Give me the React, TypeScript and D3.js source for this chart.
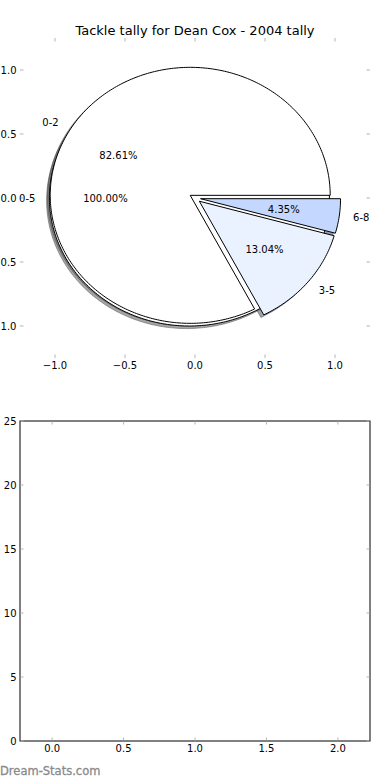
import React from "react";
import * as d3 from "d3";

const chartTitle = "Tackle tally for Dean Cox - 2004 tally";
const outerLabels = ["0-5"];
const outerValues = [23];
const outerColors = ["#ffffff"];
const innerLabels = ["0-2", "3-5", "6-8"];
const innerValues = [19, 3, 1];
const innerColors = ["#ffffff", "#eaf1ff", "#c3d7ff"];
const pieTicks = [-1, -0.5, 0, 0.5, 1];
const barXTicks = [0, 0.5, 1, 1.5, 2];
const barYTicks = [0, 5, 10, 15, 20, 25];
const watermark = "Dream-Stats.com";

const EXPLODE = 0.04;
const SHADOW_OFF = -0.02;
const FONT = "DejaVu Sans, sans-serif";
const TICK_COLOR = "#b4b4b4";
const TICK_LEN = 3.5;

const W = 390;
const H = 780;
const pieBox = { left: 20, right: 370, top: 38, bottom: 358 };
const barBox = { left: 20, right: 370, top: 421, bottom: 741 };

const px = d3.scaleLinear().domain([-1.25, 1.25]).range([pieBox.left, pieBox.right]);
const py = d3.scaleLinear().domain([-1.25, 1.25]).range([pieBox.bottom, pieBox.top]);
const bx = d3.scaleLinear().domain([-0.225, 2.225]).range([barBox.left, barBox.right]);
const by = d3.scaleLinear().domain([0, 25]).range([barBox.bottom, barBox.top]);

function fmtTick(v: number, digits: number) {
  return d3.format(`.${digits}f`)(v).replace("-", "\u2212");
}

function wedgePath(cx: number, cy: number, a0: number, a1: number) {
  const full = a1 - a0 >= 2 * Math.PI - 1e-9;
  const n = Math.max(6, Math.ceil(((a1 - a0) * 180) / Math.PI));
  const pts: [number, number][] = [];
  for (let i = 0; i <= n; i++) {
    const a = a0 + ((a1 - a0) * i) / n;
    pts.push([px(cx + Math.cos(a)), py(cy + Math.sin(a))]);
  }
  const line = d3.line();
  if (full) return line(pts) + "Z";
  return line([[px(cx), py(cy)], ...pts]) + "Z";
}

function shadowColor(c: string) {
  const r = d3.rgb(c);
  return d3.rgb(r.r * 0.3, r.g * 0.3, r.b * 0.3).formatHex();
}

type Slice = {
  label: string;
  value: number;
  color: string;
  a0: number;
  a1: number;
  cx: number;
  cy: number;
  mid: number;
  frac: number;
};

function buildSlices(labels: string[], values: number[], colors: string[]): Slice[] {
  const total = d3.sum(values);
  const arcs = d3.pie<number>().sort(null).startAngle(0).endAngle(2 * Math.PI)(values);
  return arcs.map((a, i) => {
    const mid = (a.startAngle + a.endAngle) / 2;
    return {
      label: labels[i],
      value: values[i],
      color: colors[i],
      a0: a.startAngle,
      a1: a.endAngle,
      mid,
      cx: EXPLODE * Math.cos(mid),
      cy: EXPLODE * Math.sin(mid),
      frac: values[i] / total,
    };
  });
}

export default function App() {
  const outer = buildSlices(outerLabels, outerValues, outerColors);
  const inner = buildSlices(innerLabels, innerValues, innerColors);
  const all = [...outer, ...inner];

  return (
    <svg
      width={W}
      height={H}
      style={{ position: "absolute", left: 0, top: 0, background: "#fff" }}
      fontFamily={FONT}
    >
      <rect x={0} y={0} width={W} height={H} fill="#fff" />
      {/* title */}
      <text x={(pieBox.left + pieBox.right) / 2} y={34.5} fontSize={13} textAnchor="middle" fill="#000">
        {chartTitle}
      </text>

      {/* pie axes ticks (no frame) */}
      {pieTicks.map((t) => (
        <g key={"px" + t}>
          <line x1={px(t)} x2={px(t)} y1={pieBox.top} y2={pieBox.top + TICK_LEN} stroke={TICK_COLOR} />
          <line x1={px(t)} x2={px(t)} y1={pieBox.bottom} y2={pieBox.bottom - TICK_LEN} stroke={TICK_COLOR} />
          <text x={px(t)} y={pieBox.bottom + 11} fontSize={10} textAnchor="middle" fill="#000">
            {fmtTick(t, 1)}
          </text>
        </g>
      ))}
      {pieTicks.map((t) => (
        <g key={"py" + t}>
          <line x1={pieBox.left} x2={pieBox.left + TICK_LEN} y1={py(t)} y2={py(t)} stroke={TICK_COLOR} />
          <line x1={pieBox.right} x2={pieBox.right - TICK_LEN} y1={py(t)} y2={py(t)} stroke={TICK_COLOR} />
          <text x={pieBox.left - 3.5} y={py(t) + 3.6} fontSize={10} textAnchor="end" fill="#000">
            {fmtTick(t, 1)}
          </text>
        </g>
      ))}

      {/* shadows */}
      {all.map((s, i) => (
        <path
          key={"sh" + i}
          d={wedgePath(s.cx + SHADOW_OFF, s.cy + SHADOW_OFF, s.a0, s.a1)}
          fill={shadowColor(s.color)}
          fillOpacity={0.5}
          stroke={shadowColor(s.color)}
          strokeOpacity={0.5}
          strokeWidth={1}
        />
      ))}
      {/* wedges */}
      {all.map((s, i) => (
        <path
          key={"w" + i}
          d={wedgePath(s.cx, s.cy, s.a0, s.a1)}
          fill={s.color}
          stroke="#000"
          strokeWidth={1}
          strokeLinejoin="miter"
        />
      ))}
      {/* labels */}
      {all.map((s, i) => {
        const lx = s.cx + 1.1 * Math.cos(s.mid);
        const ly = s.cy + 1.1 * Math.sin(s.mid);
        const tx = s.cx + 0.6 * Math.cos(s.mid);
        const ty = s.cy + 0.6 * Math.sin(s.mid);
        return (
          <g key={"t" + i}>
            <text
              x={px(lx)}
              y={py(ly) + 3.6}
              fontSize={10}
              textAnchor={lx > 0 ? "start" : "end"}
              fill="#000"
            >
              {s.label}
            </text>
            <text x={px(tx)} y={py(ty) + 3.6} fontSize={10} textAnchor="middle" fill="#000">
              {(s.frac * 100).toFixed(2) + "%"}
            </text>
          </g>
        );
      })}

      {/* bottom empty axes */}
      <rect
        x={barBox.left}
        y={barBox.top}
        width={barBox.right - barBox.left}
        height={barBox.bottom - barBox.top}
        fill="#fff"
        stroke="#000"
        strokeWidth={1}
      />
      {barXTicks.map((t) => (
        <g key={"bx" + t}>
          <line x1={bx(t)} x2={bx(t)} y1={barBox.top + 0.5} y2={barBox.top + TICK_LEN} stroke={TICK_COLOR} />
          <line x1={bx(t)} x2={bx(t)} y1={barBox.bottom - 0.5} y2={barBox.bottom - TICK_LEN} stroke={TICK_COLOR} />
          <text x={bx(t)} y={barBox.bottom + 11} fontSize={10} textAnchor="middle" fill="#000">
            {fmtTick(t, 1)}
          </text>
        </g>
      ))}
      {barYTicks.map((t) => (
        <g key={"by" + t}>
          <line x1={barBox.left + 0.5} x2={barBox.left + TICK_LEN} y1={by(t)} y2={by(t)} stroke={TICK_COLOR} />
          <line x1={barBox.right - 0.5} x2={barBox.right - TICK_LEN} y1={by(t)} y2={by(t)} stroke={TICK_COLOR} />
          <text x={barBox.left - 3.5} y={by(t) + 3.6} fontSize={10} textAnchor="end" fill="#000">
            {String(t)}
          </text>
        </g>
      ))}

      {/* watermark */}
      <text x={0} y={774.5} fontSize={11.5} fill="#8a8a8a" fontWeight="normal" stroke="#8a8a8a" strokeWidth={0.3}>
        {watermark}
      </text>
    </svg>
  );
}
